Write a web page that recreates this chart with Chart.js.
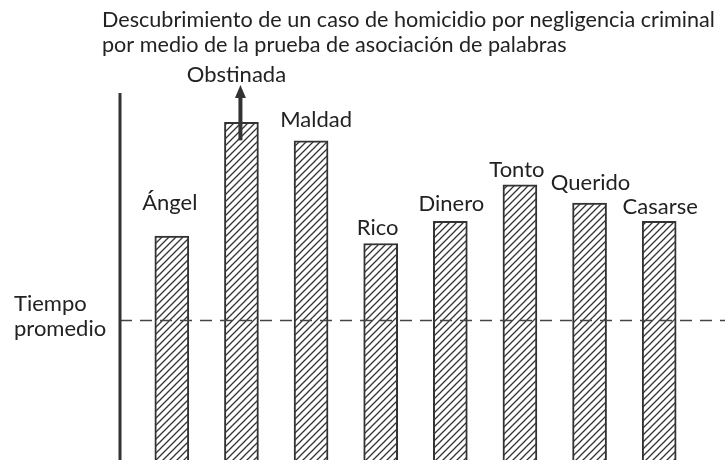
<!DOCTYPE html>
<html>
<head>
<meta charset="utf-8">
<script src="https://cdn.jsdelivr.net/npm/chart.js@4.4.1/dist/chart.umd.min.js"></script>
<style>
  body { margin: 0; background: #fff; }
  #chart { display: block; }
</style>
</head>
<body>
<canvas id="chart" width="725" height="460"></canvas>
<script>
const titleLines = ['Descubrimiento de un caso de homicidio por negligencia criminal',
                    'por medio de la prueba de asociación de palabras'];
const words = ['Ángel', 'Obstinada', 'Maldad', 'Rico', 'Dinero', 'Tonto', 'Querido', 'Casarse'];
const reactionTimes = [61, 92, 87, 59, 65, 75, 70, 65];
const averageTime = 38;
const averageLabel = ['Tiempo', 'promedio'];
const offScaleWord = 'Obstinada';

const FONT = 'Lato, "Open Sans", sans-serif';
const INK = '#222';

function hatchPattern() {
    const c = document.createElement('canvas');
    c.width = 7; c.height = 7;
    const g = c.getContext('2d');
    g.fillStyle = '#fff';
    g.fillRect(0, 0, 7, 7);
    g.strokeStyle = '#333';
    g.lineWidth = 1.3;
    g.beginPath();
    g.moveTo(-1, 8); g.lineTo(8, -1);
    g.moveTo(-1, 1); g.lineTo(1, -1);
    g.moveTo(6, 8); g.lineTo(8, 6);
    g.stroke();
    return g.createPattern(c, 'repeat');
}

const annotations = {
    id: 'annotations',
    afterDatasetsDraw(chart, args, opts) {
        const ctx = chart.ctx;
        const area = chart.chartArea;
        const yScale = chart.scales.y;
        const bars = chart.getDatasetMeta(0).data;
        const axisX = area.left - 17;
        ctx.save();

        // average line
        const yAvg = yScale.getPixelForValue(averageTime);
        ctx.strokeStyle = '#444';
        ctx.lineWidth = 1.5;
        ctx.setLineDash([12, 8]);
        ctx.beginPath();
        ctx.moveTo(axisX, yAvg);
        ctx.lineTo(chart.width, yAvg);
        ctx.stroke();
        ctx.setLineDash([]);

        // vertical axis
        ctx.strokeStyle = '#333';
        ctx.lineWidth = 3;
        ctx.beginPath();
        ctx.moveTo(axisX, area.top);
        ctx.lineTo(axisX, area.bottom);
        ctx.stroke();

        // word labels
        ctx.fillStyle = INK;
        ctx.font = '22px ' + FONT;
        ctx.textAlign = 'center';
        ctx.textBaseline = 'middle';
        bars.forEach((bar, i) => {
            ctx.fillText(words[i], bar.x + opts.dx[i], bar.y - opts.lift[i]);
        });

        // arrow on the off-scale bar
        const k = words.indexOf(offScaleWord);
        const b = bars[k];
        const ax = b.x - 1;
        const tip = area.top - 8;
        ctx.strokeStyle = '#333';
        ctx.fillStyle = '#333';
        ctx.lineWidth = 4;
        ctx.beginPath();
        ctx.moveTo(ax, b.y + 18);
        ctx.lineTo(ax, tip + 10);
        ctx.stroke();
        ctx.beginPath();
        ctx.moveTo(ax, tip);
        ctx.lineTo(ax - 5.5, tip + 13);
        ctx.lineTo(ax + 5.5, tip + 13);
        ctx.closePath();
        ctx.fill();

        // average label
        ctx.fillStyle = INK;
        ctx.textAlign = 'left';
        ctx.fillText(averageLabel[0], 14, yAvg - 17);
        ctx.fillText(averageLabel[1], 14, yAvg + 8);

        // title
        ctx.font = '21.6px ' + FONT;
        ctx.textBaseline = 'alphabetic';
        ctx.fillText(titleLines[0], axisX - 18, 27);
        ctx.fillText(titleLines[1], axisX - 18, 52);
        ctx.restore();
    }
};

new Chart(document.getElementById('chart'), {
    type: 'bar',
    data: {
        labels: words,
        datasets: [{
            data: reactionTimes,
            backgroundColor: hatchPattern(),
            borderColor: '#333',
            borderWidth: 2,
            borderSkipped: 'bottom',
            barThickness: 34
        }]
    },
    options: {
        responsive: false,
        animation: false,
        layout: { padding: { left: 137, right: 31, top: 93, bottom: 0 } },
        scales: {
            x: { display: false },
            y: { display: false, min: 0, max: 100 }
        },
        plugins: {
            legend: { display: false },
            tooltip: { enabled: false },
            annotations: {
                lift: [33, 47, 21, 16, 18, 15, 20, 15],
                dx: [-2, -5, 5, -3, 1, -3, 1, 1]
            }
        }
    },
    plugins: [annotations]
});
</script>
</body>
</html>
